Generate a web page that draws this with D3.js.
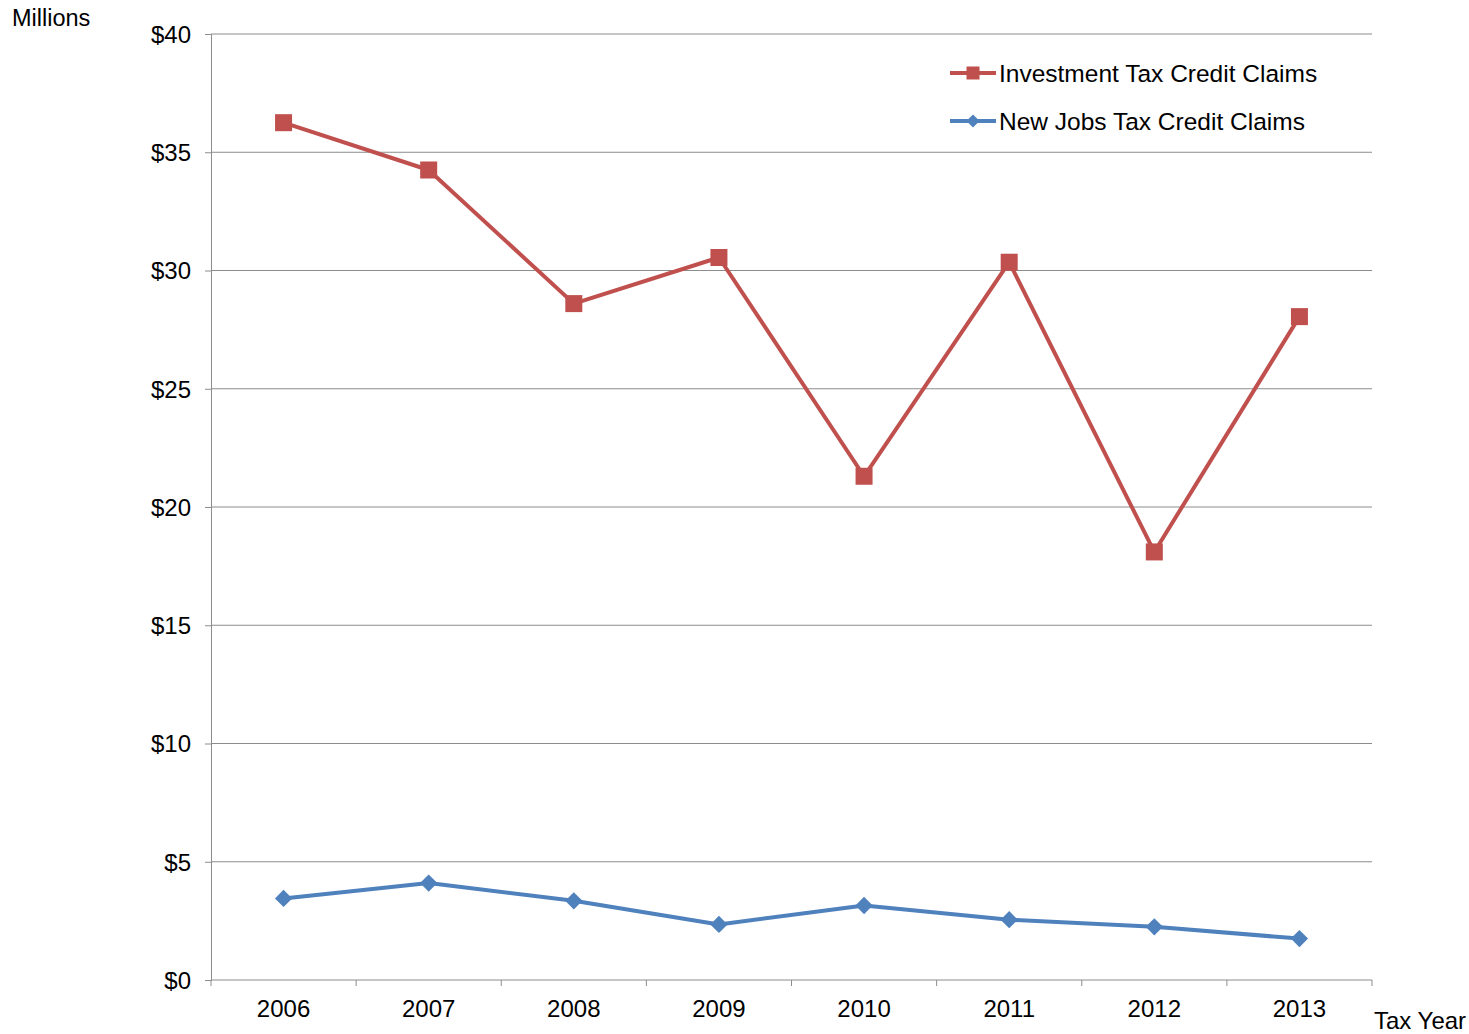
<!DOCTYPE html>
<html>
<head>
<meta charset="utf-8">
<script src="https://cdn.jsdelivr.net/npm/d3@7"></script>
<style>
  html, body { margin: 0; padding: 0; background: #fff; }
  svg text { font-family: "Liberation Sans", Arial, sans-serif; fill: #000; }
</style>
</head>
<body>
<svg id="chart" width="1469" height="1034"></svg>
<script>
// Tax credit claims by tax year, in millions of dollars
const years = ["2006", "2007", "2008", "2009", "2010", "2011", "2012", "2013"];
const investmentClaims = [36.25, 34.25, 28.6, 30.55, 21.3, 30.35, 18.1, 28.05];
const newJobsClaims = [3.45, 4.1, 3.35, 2.35, 3.15, 2.55, 2.25, 1.75];
const yTicks = [0, 5, 10, 15, 20, 25, 30, 35, 40];
const seriesNames = ["Investment Tax Credit Claims", "New Jobs Tax Credit Claims"];

const svg = d3.select("#chart");
const margin = { left: 211, right: 97, top: 34, bottom: 54 };
const W = 1469, H = 1034;
const x0 = margin.left, x1 = W - margin.right;
const y0 = H - margin.bottom, y1 = margin.top;

const x = d3.scaleBand().domain(years).range([x0, x1]);
const y = d3.scaleLinear().domain([0, 40]).range([y0, y1]);

// Horizontal gridlines
svg.append("g")
  .selectAll("line")
  .data(yTicks.filter(d => d > 0))
  .join("line")
  .attr("x1", x0).attr("x2", x1)
  .attr("y1", d => y(d)).attr("y2", d => y(d))
  .attr("stroke", "#8c8c8c").attr("stroke-width", 1);

// Y axis
const yAxis = svg.append("g")
  .attr("transform", `translate(${x0},0)`)
  .call(d3.axisLeft(y).tickValues(yTicks).tickSize(6).tickPadding(14)
    .tickFormat(d => "$" + d));
yAxis.attr("font-size", null).attr("font-family", null);
yAxis.select(".domain").attr("stroke", "#8c8c8c");
yAxis.selectAll(".tick line").attr("stroke", "#8c8c8c");
yAxis.selectAll(".tick text").attr("font-size", 24).attr("dy", "0.35em");

// X axis with ticks at band boundaries
const xAxisG = svg.append("g").attr("transform", `translate(0,${y0})`);
xAxisG.append("line").attr("x1", x0).attr("x2", x1).attr("y1", 0).attr("y2", 0)
  .attr("stroke", "#8c8c8c");
const bounds = years.map(d => x(d)).concat([x1]);
xAxisG.selectAll("line.tk").data(bounds).join("line").attr("class", "tk")
  .attr("x1", d => d).attr("x2", d => d).attr("y1", 0).attr("y2", 6)
  .attr("stroke", "#8c8c8c");
xAxisG.selectAll("text").data(years).join("text")
  .attr("x", d => x(d) + x.bandwidth() / 2)
  .attr("y", 37)
  .attr("text-anchor", "middle")
  .attr("font-size", 24)
  .text(d => d);

// Axis titles
svg.append("text").attr("x", 12).attr("y", 26).attr("font-size", 23.5).text("Millions");
svg.append("text").attr("x", 1374).attr("y", 1029).attr("font-size", 24).text("Tax Year");

const cx = d => x(d) + x.bandwidth() / 2;
const line = d3.line().x(d => cx(d.year)).y(d => y(d.value));

const invData = years.map((yr, i) => ({ year: yr, value: investmentClaims[i] }));
const jobsData = years.map((yr, i) => ({ year: yr, value: newJobsClaims[i] }));

const red = "#c0504d", blue = "#4f81bd";

// Investment series
svg.append("path").datum(invData).attr("d", line)
  .attr("fill", "none").attr("stroke", red).attr("stroke-width", 4)
  .attr("stroke-linejoin", "round");
svg.append("g").selectAll("rect").data(invData).join("rect")
  .attr("x", d => cx(d.year) - 8.5).attr("y", d => y(d.value) - 8.5)
  .attr("width", 17).attr("height", 17).attr("fill", red);

// New jobs series
const diamond = d3.symbol().type(d3.symbolDiamond2).size(190);
svg.append("path").datum(jobsData).attr("d", line)
  .attr("fill", "none").attr("stroke", blue).attr("stroke-width", 4)
  .attr("stroke-linejoin", "round");
svg.append("g").selectAll("path").data(jobsData).join("path")
  .attr("d", diamond)
  .attr("transform", d => `translate(${cx(d.year)},${y(d.value)})`)
  .attr("fill", blue);

// Legend
const legend = svg.append("g");
const legendRows = [
  { name: seriesNames[0], color: red, shape: "square", yy: 73 },
  { name: seriesNames[1], color: blue, shape: "diamond", yy: 121 }
];
legendRows.forEach(r => {
  legend.append("line").attr("x1", 950).attr("x2", 996).attr("y1", r.yy).attr("y2", r.yy)
    .attr("stroke", r.color).attr("stroke-width", 4);
  if (r.shape === "square") {
    legend.append("rect").attr("x", 973 - 6.5).attr("y", r.yy - 6.5)
      .attr("width", 13).attr("height", 13).attr("fill", r.color);
  } else {
    legend.append("path").attr("d", d3.symbol().type(d3.symbolDiamond2).size(110)())
      .attr("transform", `translate(973,${r.yy})`).attr("fill", r.color);
  }
  legend.append("text").attr("x", 999).attr("y", r.yy).attr("dy", "0.35em")
    .attr("font-size", 24.5).text(r.name);
});
</script>
</body>
</html>
